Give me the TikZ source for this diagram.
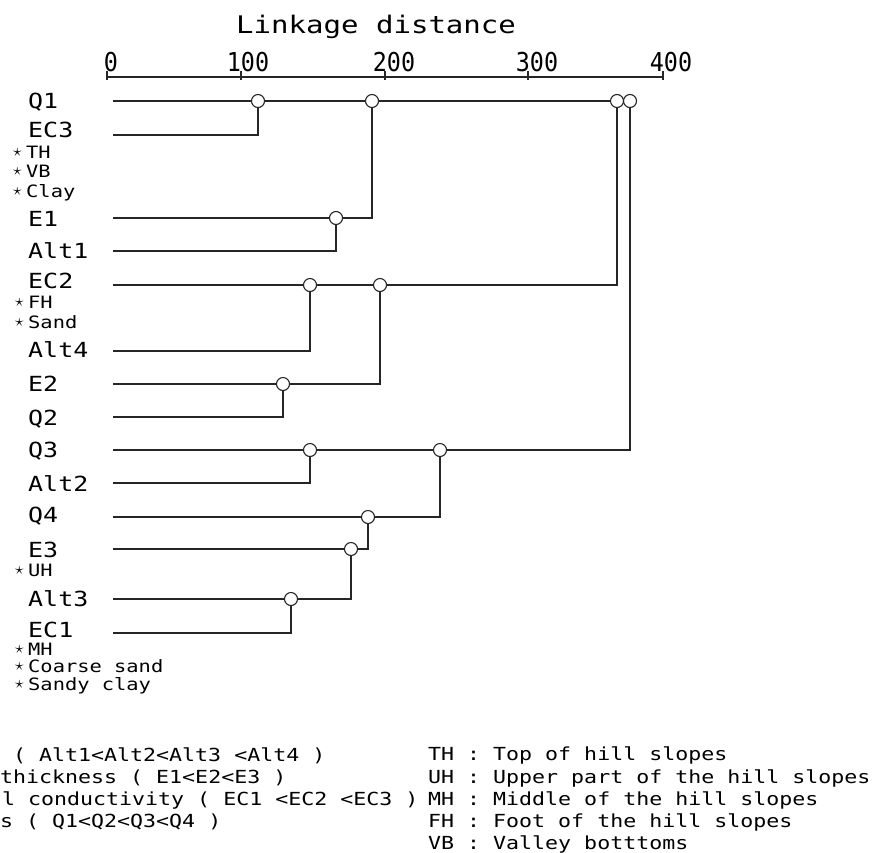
\documentclass[tikz,border=0pt]{standalone}
\usepackage{fontspec}
\newfontfamily\dendfont[FakeStretch=1.2]{DejaVu Sans Mono}
\newfontfamily\tickfont[FakeStretch=0.9]{DejaVu Sans Mono}
\usetikzlibrary{positioning}

\newcommand{\nstar}{\makebox[13pt][l]{\fontsize{16}{16}\selectfont\raisebox{2pt}{$\star$}}}

\tikzset{
  leaf/.style={anchor=base west, inner sep=0pt, font=\dendfont\fontsize{20.8}{22}\selectfont},
  note/.style={anchor=base west, inner sep=0pt, font=\dendfont\fontsize{17}{18}\selectfont},
  legend/.style={anchor=base west, inner sep=0pt, font=\dendfont\fontsize{18}{20}\selectfont},
  titlelab/.style={anchor=base west, inner sep=0pt, font=\dendfont\fontsize{24.2}{26}\selectfont},
  ticklab/.style={anchor=base, inner sep=0pt, font=\tickfont\fontsize{26}{28}\selectfont},
  merge/.style={circle, draw=black!85, fill=white, inner sep=0pt, minimum size=13pt, line width=1.1pt},
  branch/.style={draw=black!85, line width=1.3pt},
}

\begin{document}
\begin{tikzpicture}[x=1pt,y=-1pt]
  \useasboundingbox (0,0) rectangle (882,852);

  % axis
  \node[titlelab] (title) at (236,33) {Linkage distance};
  \coordinate (ax0) at (107,77);
  \coordinate (ax400) at (663,77);
  \draw[branch] (ax0) -- (ax400);
  \foreach \t/\x/\lx in {0/107/111,100/241/248,200/385/394,300/528/537,400/663/671}{
    \draw[branch] (\x,71) -- (\x,80);
    \node[ticklab] (tick\t) at (\lx,71) {\t};
  }

  % leaves
  \foreach \n/\y/\b in {Q1/101/108,EC3/135/137,E1/218/226,Alt1/251/258,EC2/285/288,
      Alt4/351/357,E2/384/391,Q2/417/425,Q3/450/457,Alt2/483/491,Q4/517/522,
      E3/549/557,Alt3/599/606,EC1/633/637}{
    \node[leaf] (l\n) at (28,\b) {\n};
    \coordinate (\n) at (113,\y);
  }

  % site and soil notes
  \node[note] (nTH) at (13,158) {\nstar TH};
  \node[note] (nVB) at (13,177) {\nstar VB};
  \node[note] (nClay) at (13,197) {\nstar Clay};
  \node[note] (nFH) at (15,308) {\nstar FH};
  \node[note] (nSand) at (15,328) {\nstar Sand};
  \node[note] (nUH) at (15,576) {\nstar UH};
  \node[note] (nMH) at (15,655) {\nstar MH};
  \node[note] (nCoarse) at (15,672) {\nstar Coarse sand};
  \node[note] (nSandy) at (15,690) {\nstar Sandy clay};

  % merge points
  \node[merge] (m1) at (258,101) {};
  \node[merge] (m2) at (372,101) {};
  \node[merge] (m3) at (336,218) {};
  \node[merge] (m4) at (310,285) {};
  \node[merge] (m5) at (380,285) {};
  \node[merge] (m6) at (283,384) {};
  \node[merge] (m7) at (310,450) {};
  \node[merge] (m8) at (440,450) {};
  \node[merge] (m9) at (368,517) {};
  \node[merge] (m10) at (351,549) {};
  \node[merge] (m11) at (291,599) {};
  \node[merge] (m12) at (617,101) {};
  \node[merge] (mtop) at (630,101) {};

  % branches
  \draw[branch] (Q1) -- (m1);
  \draw[branch] (EC3) -| (m1);
  \draw[branch] (m1) -- (m2);
  \draw[branch] (E1) -- (m3);
  \draw[branch] (Alt1) -| (m3);
  \draw[branch] (m3) -| (m2);
  \draw[branch] (m2) -- (m12);
  \draw[branch] (EC2) -- (m4);
  \draw[branch] (Alt4) -| (m4);
  \draw[branch] (m4) -- (m5);
  \draw[branch] (E2) -- (m6);
  \draw[branch] (Q2) -| (m6);
  \draw[branch] (m6) -| (m5);
  \draw[branch] (m5) -| (m12);
  \draw[branch] (m12) -- (mtop);
  \draw[branch] (Q3) -- (m7);
  \draw[branch] (Alt2) -| (m7);
  \draw[branch] (m7) -- (m8);
  \draw[branch] (Q4) -- (m9);
  \draw[branch] (E3) -- (m10);
  \draw[branch] (Alt3) -- (m11);
  \draw[branch] (EC1) -| (m11);
  \draw[branch] (m11) -| (m10);
  \draw[branch] (m10) -| (m9);
  \draw[branch] (m9) -| (m8);
  \draw[branch] (m8) -| (mtop);

  % legend
  \node[legend] (kAlt) at (13,761) {( Alt1<Alt2<Alt3 <Alt4 )};
  \node[legend] (kE) at (0,783) {thickness ( E1<E2<E3 )};
  \node[legend] (kEC) at (2,805) {l conductivity ( EC1 <EC2 <EC3 )};
  \node[legend] (kQ) at (0,827) {s ( Q1<Q2<Q3<Q4 )};
  \node[legend] (kTH) at (428,760) {TH : Top of hill slopes};
  \node[legend] (kUH) at (428,783) {UH : Upper part of the hill slopes};
  \node[legend] (kMH) at (428,805) {MH : Middle of the hill slopes};
  \node[legend] (kFH) at (428,827) {FH : Foot of the hill slopes};
  \node[legend] (kVB) at (428,849) {VB : Valley botttoms};
\end{tikzpicture}
\end{document}
